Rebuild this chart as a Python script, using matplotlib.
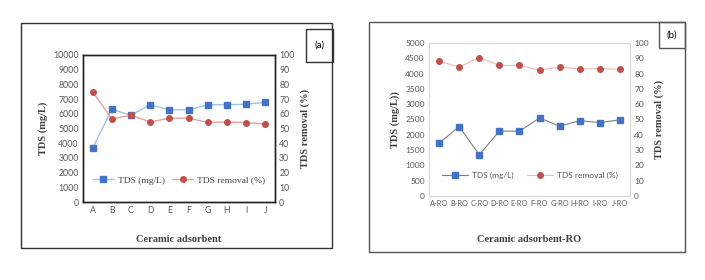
import matplotlib
matplotlib.use("Agg")
import matplotlib.pyplot as plt
from matplotlib.patches import Rectangle

W, H = 705, 280

cats_a = ["A", "B", "C", "D", "E", "F", "G", "H", "I", "J"]
tds_a = [3650, 6300, 5900, 6620, 6270, 6270, 6620, 6620, 6650, 6780]
rem_a = [75, 56.5, 59, 54.5, 57, 57, 54.2, 54.4, 54, 53]

cats_b = ["A-RO", "B-RO", "C-RO", "D-RO", "E-RO", "F-RO", "G-RO", "H-RO", "I-RO", "J-RO"]
tds_b = [1720, 2270, 1350, 2120, 2120, 2550, 2280, 2460, 2400, 2490]
rem_b = [88, 84.3, 90.5, 85.3, 85.3, 82.3, 84.2, 83, 83.3, 82.8]

blue = "#4472C4"
red = "#C0504D"
tick_gray = "#595959"
serif = "Liberation Serif"
sans = "Lato"

fig = plt.figure(figsize=(W / 100, H / 100), dpi=100)


def box(x0, y0, x1, y1, color="#333333", lw=1.0):
    # pixel coords (top-left origin) -> figure rectangle
    r = Rectangle((x0 / W, 1 - y1 / H), (x1 - x0) / W, (y1 - y0) / H,
                  transform=fig.transFigure, fill=False, edgecolor=color, lw=lw)
    fig.patches.append(r)


def axes_px(x0, y0, x1, y1):
    return fig.add_axes([x0 / W, 1 - y1 / H, (x1 - x0) / W, (y1 - y0) / H])


def style_ticks(ax, ax2, size=6.3):
    for a in (ax, ax2):
        a.tick_params(length=0, labelsize=size, colors=tick_gray, pad=3)
        for lab in a.get_xticklabels() + a.get_yticklabels():
            lab.set_fontfamily(sans)


# ---- panel (a) ----
box(21, 23, 332, 248)
box(306, 29, 333, 62)
fig.text(319.5 / W, 1 - 45.5 / H, "(a)", ha="center", va="center", fontsize=7, family=sans)

ax = axes_px(83, 55, 275, 202)
ax2 = ax.twinx()
x = range(len(cats_a))
l1, = ax.plot(x, tds_a, color="#9DC3E6", lw=1, marker="s", ms=4, mfc=blue, mec=blue)
l2, = ax2.plot(x, rem_a, color="#E8A09E", lw=1, marker="o", ms=4, mfc=red, mec=red)
ax.set_ylim(0, 10000)
ax.set_yticks(range(0, 10001, 1000))
ax2.set_ylim(0, 100)
ax2.set_yticks(range(0, 101, 10))
ax.set_xlim(-0.5, len(cats_a) - 0.5)
ax.set_xticks(list(x))
ax.set_xticklabels(cats_a)
for a in (ax, ax2):
    for s in a.spines.values():
        s.set_color("#222222")
        s.set_linewidth(1.0)
style_ticks(ax, ax2)
ax.set_ylabel("TDS (mg/L)", family=serif, fontweight="bold", fontsize=7.5, color="#404040", labelpad=4)
ax2.set_ylabel("TDS removal (%)", family=serif, fontweight="bold", fontsize=7.5, color="#404040", labelpad=4)
ax.set_xlabel("Ceramic adsorbent", family=serif, fontweight="bold", fontsize=7.5, color="#404040", labelpad=14)
ax.legend([l1, l2], ["TDS (mg/L)", "TDS removal (%)"], loc="lower center", ncol=2, frameon=False,
          prop={"family": serif, "size": 6.8}, bbox_to_anchor=(0.5, 0.06), handlelength=2.2,
          handletextpad=0.4, columnspacing=0.8, labelcolor="#404040")

# ---- panel (b) ----
box(369, 22, 685, 252, color="#555555")
box(659, 22, 685, 48, color="#555555")
fig.text(672 / W, 1 - 35 / H, "(b)", ha="center", va="center", fontsize=7, family=sans)

bx = axes_px(429, 43, 630, 196)
bx2 = bx.twinx()
x = range(len(cats_b))
m1, = bx.plot(x, tds_b, color="#7F7F7F", lw=0.8, marker="s", ms=4, mfc=blue, mec=blue)
m2, = bx2.plot(x, rem_b, color="#F0B8B6", lw=0.8, marker="o", ms=4, mfc=red, mec=red)
bx.set_ylim(0, 5000)
bx.set_yticks(range(0, 5001, 500))
bx2.set_ylim(0, 100)
bx2.set_yticks(range(0, 101, 10))
bx.set_xlim(-0.5, len(cats_b) - 0.5)
bx.set_xticks(list(x))
bx.set_xticklabels(cats_b)
for a in (bx, bx2):
    for s in a.spines.values():
        s.set_color("#D9D9D9")
        s.set_linewidth(0.8)
style_ticks(bx, bx2, size=6)
bx.tick_params(axis="x", labelsize=5.3)
bx.set_ylabel("TDS (mg/L))", family=serif, fontweight="bold", fontsize=7.5, color="#404040", labelpad=4)
bx2.set_ylabel("TDS removal (%)", family=serif, fontweight="bold", fontsize=7.5, color="#404040", labelpad=4)
bx.set_xlabel("Ceramic adsorbent-RO", family=serif, fontweight="bold", fontsize=7.5, color="#404040", labelpad=20)
bx.legend([m1, m2], ["TDS (mg/L)", "TDS removal (%)"], loc="lower center", ncol=2, frameon=False,
          prop={"family": sans, "size": 6}, bbox_to_anchor=(0.5, 0.06), handlelength=3.2,
          handletextpad=0.4, columnspacing=1.6, labelcolor=tick_gray)

fig.savefig("out.png", dpi=100)
